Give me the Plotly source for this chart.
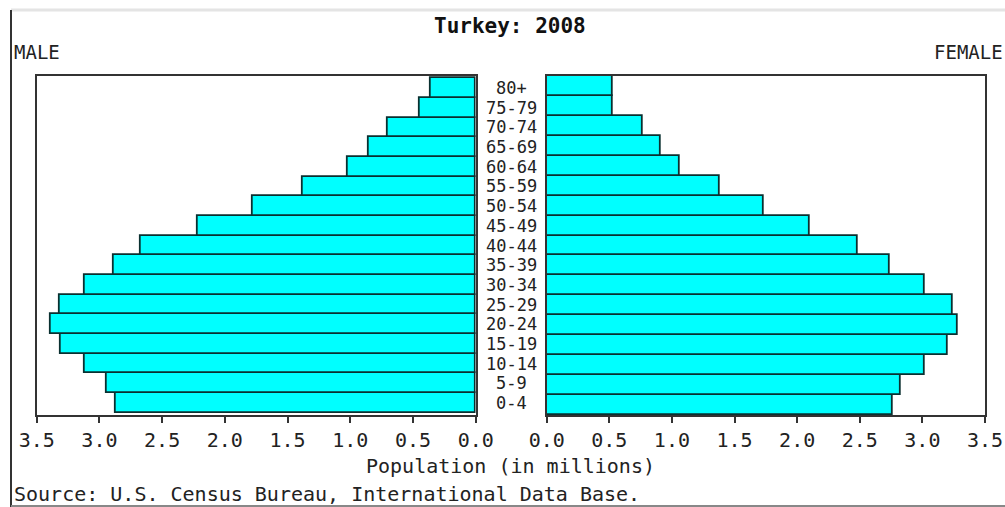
import plotly.graph_objects as go

age_groups = ["0-4", "5-9", "10-14", "15-19", "20-24", "25-29", "30-34", "35-39",
              "40-44", "45-49", "50-54", "55-59", "60-64", "65-69", "70-74", "75-79", "80+"]
male = [2.87, 2.94, 3.12, 3.31, 3.39, 3.32, 3.12, 2.89, 2.67, 2.22, 1.78, 1.38,
        1.02, 0.85, 0.70, 0.45, 0.36]
female = [2.76, 2.83, 3.02, 3.20, 3.28, 3.24, 3.02, 2.74, 2.48, 2.10, 1.73, 1.38,
          1.06, 0.91, 0.77, 0.53, 0.53]
tick_vals = [0.0, 0.5, 1.0, 1.5, 2.0, 2.5, 3.0, 3.5]
tick_text = ["0.0", "0.5", "1.0", "1.5", "2.0", "2.5", "3.0", "3.5"]

W, H = 1005, 507
FONT = "DejaVu Sans Mono"

def px_x(p):
    return p / W

def px_y(p):
    return 1 - p / H

fig = go.Figure()
bar_style = dict(orientation="h", marker=dict(color="#00FFFF", line=dict(color="#0a3030", width=1.8)),
                 showlegend=False, hoverinfo="x+y")
fig.add_trace(go.Bar(x=male, y=age_groups, xaxis="x", yaxis="y", name="Male", **bar_style))
fig.add_trace(go.Bar(x=female, y=age_groups, xaxis="x2", yaxis="y2", name="Female", **bar_style))

axis_common = dict(showline=True, mirror=True, linecolor="#333333", linewidth=2,
                   showgrid=False, zeroline=False, automargin=False)
xcommon = dict(axis_common, tickmode="array", tickvals=tick_vals, ticktext=tick_text,
               ticks="outside", ticklen=6, tickwidth=2, tickcolor="#333333",
               tickfont=dict(family=FONT, size=20, color="#222222"))
ycommon = dict(axis_common, type="category", categoryorder="array", categoryarray=age_groups,
               showticklabels=False, ticks="", domain=[px_y(415), px_y(76)])

fig.update_layout(
    width=W, height=H, autosize=False,
    margin=dict(l=0, r=0, t=0, b=0, pad=0, autoexpand=False),
    paper_bgcolor="white", plot_bgcolor="white",
    bargap=0,
    xaxis=dict(xcommon, domain=[px_x(36.7), px_x(475.7)], range=[3.5, 0], anchor="y"),
    yaxis=dict(ycommon, anchor="x"),
    xaxis2=dict(xcommon, domain=[px_x(546.7), px_x(985)], range=[0, 3.5], anchor="y2"),
    yaxis2=dict(ycommon, anchor="x2"),
)

annotations = []
for ag in age_groups:
    annotations.append(dict(x=px_x(511), xref="paper", y=ag, yref="y", text=ag, showarrow=False,
                            xanchor="center", yanchor="middle",
                            font=dict(family=FONT, size=17, color="#222222")))
annotations += [
    dict(x=px_x(510), y=px_y(26), xref="paper", yref="paper", text="<b>Turkey: 2008</b>",
         showarrow=False, xanchor="center", yanchor="middle",
         font=dict(family=FONT, size=21, color="#111111")),
    dict(x=px_x(12), y=px_y(52), xref="paper", yref="paper", text="MALE",
         showarrow=False, xanchor="left", yanchor="middle",
         font=dict(family=FONT, size=19, color="#222222")),
    dict(x=px_x(1005), y=px_y(52), xref="paper", yref="paper", text="FEMALE",
         showarrow=False, xanchor="right", yanchor="middle",
         font=dict(family=FONT, size=19, color="#222222")),
    dict(x=px_x(510), y=px_y(466), xref="paper", yref="paper", text="Population (in millions)",
         showarrow=False, xanchor="center", yanchor="middle",
         font=dict(family=FONT, size=20, color="#222222")),
    dict(x=px_x(12), y=px_y(494), xref="paper", yref="paper",
         text="Source: U.S. Census Bureau, International Data Base.",
         showarrow=False, xanchor="left", yanchor="middle",
         font=dict(family=FONT, size=20, color="#222222")),
]
fig.update_layout(annotations=annotations)

fig.update_layout(shapes=[
    dict(type="line", xref="paper", yref="paper", x0=px_x(11), x1=1, y0=px_y(10), y1=px_y(10),
         line=dict(color="#e4e4e4", width=3)),
    dict(type="line", xref="paper", yref="paper", x0=px_x(11), x1=px_x(11), y0=px_y(10), y1=0,
         line=dict(color="#333333", width=2)),
    dict(type="line", xref="paper", yref="paper", x0=px_x(11), x1=1, y0=px_y(506), y1=px_y(506),
         line=dict(color="#888888", width=2)),
])

fig.write_html("out.html", config={"displayModeBar": False},
               post_script="document.body.style.margin='0';document.body.style.overflow='hidden';")
